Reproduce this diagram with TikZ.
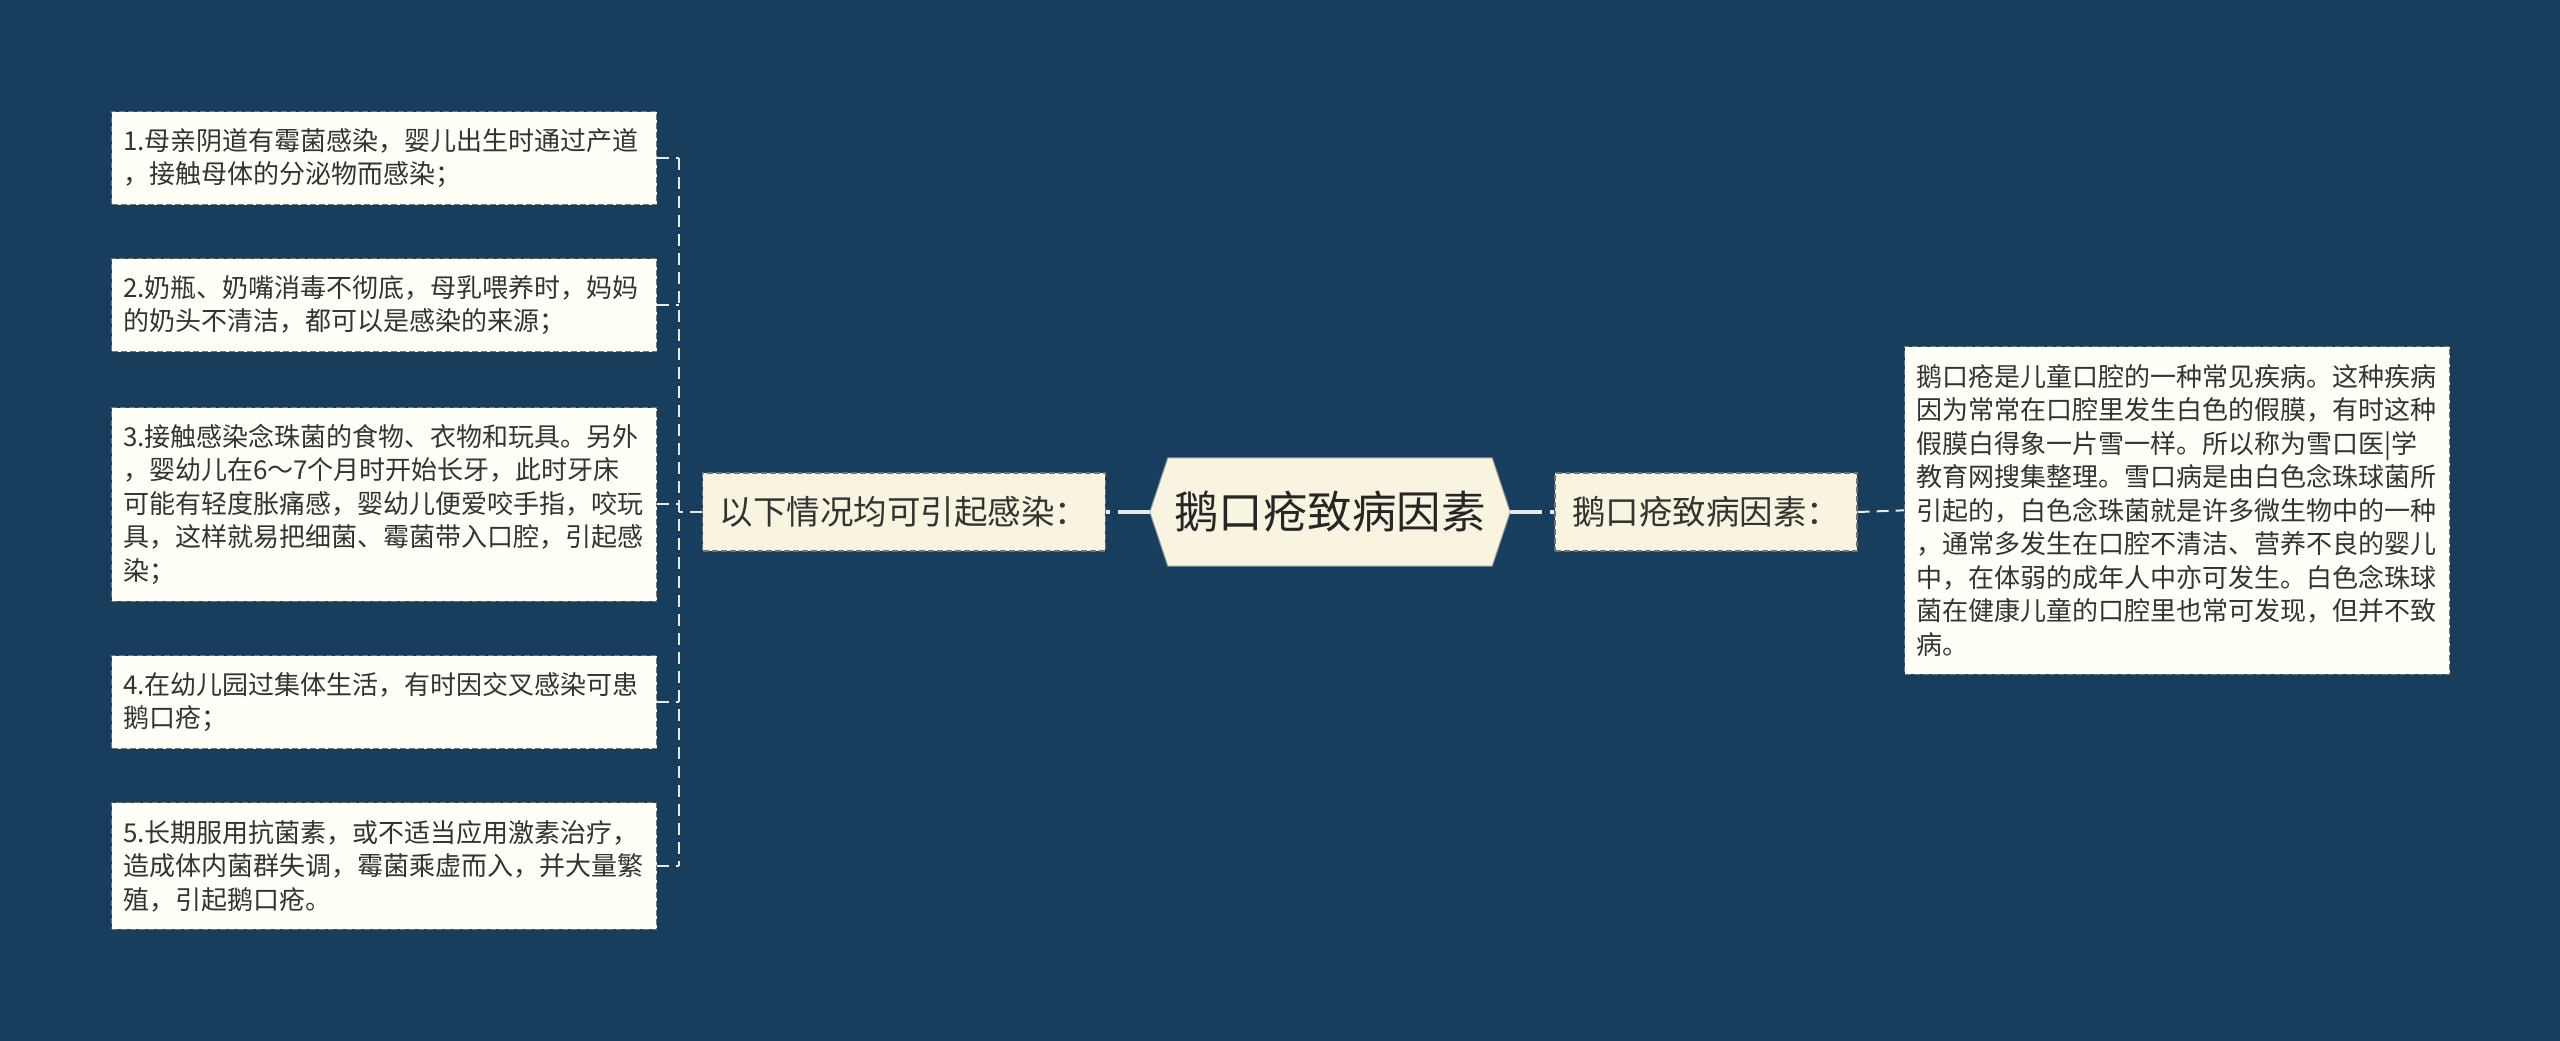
\documentclass[tikz,border=0pt]{standalone}
\usepackage{fontspec}
\setmainfont{Noto Sans CJK SC}
\usetikzlibrary{backgrounds}
\definecolor{bgblue}{HTML}{183E5E}
\definecolor{leafbg}{HTML}{FFFEF7}
\definecolor{midbg}{HTML}{F8F4E0}
\definecolor{inkgray}{HTML}{333333}
\definecolor{linkcol}{HTML}{E9E9E9}
\begin{document}
\begin{tikzpicture}[x=1pt, y=-1pt,
  leaf/.style={draw=black!55, line width=1.2pt, dash pattern=on 6pt off 3pt,
    fill=leafbg, text=inkgray, font=\fontsize{26}{33.5}\selectfont,
    text width=522pt, align=left, inner xsep=11.5pt, inner ysep=0pt,
    anchor=north west, minimum height={26+33.5*#1}},
  midbox/.style={draw=black!55, line width=1.2pt, dash pattern=on 6pt off 3pt,
    fill=midbg, text=inkgray, font=\fontsize{33.5}{40}\selectfont,
    inner xsep=17pt, inner ysep=0pt, minimum height=78pt},
  twig/.style={linkcol, line width=2pt, dash pattern=on 12pt off 7pt},
  trunk/.style={linkcol, line width=4pt, dash pattern=on 32pt off 8pt}]
 \useasboundingbox (0,0) rectangle (2560,1041);
 % centre
 \node[font=\fontsize{44.5}{50}\selectfont, text=black!85, inner sep=0pt,
       minimum width=360pt, minimum height=108pt] (root) at (1330,512) {鹅口疮致病因素};
 \begin{scope}[on background layer]
   \fill[bgblue] (0,0) rectangle (2560,1041);
   \filldraw[fill=midbg, draw=black!40, line width=1pt]
        (root.west) -- ([xshift=18pt]root.north west)
     -- ([xshift=-18pt]root.north east) -- (root.east)
     -- ([xshift=-18pt]root.south east) -- ([xshift=18pt]root.south west) -- cycle;
 \end{scope}
 \node[midbox] (mid1) at (904,512) {以下情况均可引起感染：};
 \node[midbox] (mid2) at (1706,512) {鹅口疮致病因素：};
 % left side
 \node[leaf=2] (c1) at (111,111) {1.母亲阴道有霉菌感染，婴儿出生时通过产道\\，接触母体的分泌物而感染；};
 \node[leaf=2] (c2) at (111,258) {2.奶瓶、奶嘴消毒不彻底，母乳喂养时，妈妈\\的奶头不清洁，都可以是感染的来源；};
 \node[leaf=5] (c3) at (111,407) {3.接触感染念珠菌的食物、衣物和玩具。另外\\，婴幼儿在6～7个月时开始长牙，此时牙床\\可能有轻度胀痛感，婴幼儿便爱咬手指，咬玩\\具，这样就易把细菌、霉菌带入口腔，引起感\\染；};
 \node[leaf=2] (c4) at (111,655) {4.在幼儿园过集体生活，有时因交叉感染可患\\鹅口疮；};
 \node[leaf=3] (c5) at (111,802) {5.长期服用抗菌素，或不适当应用激素治疗，\\造成体内菌群失调，霉菌乘虚而入，并大量繁\\殖，引起鹅口疮。};
 % right side
 \node[leaf=9] (info) at (1904,346) {鹅口疮是儿童口腔的一种常见疾病。这种疾病\\因为常常在口腔里发生白色的假膜，有时这种\\假膜白得象一片雪一样。所以称为雪口医|学\\教育网搜集整理。雪口病是由白色念珠球菌所\\引起的，白色念珠菌就是许多微生物中的一种\\，通常多发生在口腔不清洁、营养不良的婴儿\\中，在体弱的成年人中亦可发生。白色念珠球\\菌在健康儿童的口腔里也常可发现，但并不致\\病。};
 \draw[trunk] (root.west) -- (mid1.east);
 \draw[trunk] (root.east) -- (mid2.west);
 \draw[twig] (mid2.east) -- (info.west);
 \draw[twig] (mid1.west) -- ++(-23,0) coordinate (fork);
 \draw[twig] (fork |- c1.east) -- (fork |- c5.east);
 \foreach \i in {1,...,5}
   \draw[twig] (c\i.east) -- (fork |- c\i.east);
\end{tikzpicture}
\end{document}
